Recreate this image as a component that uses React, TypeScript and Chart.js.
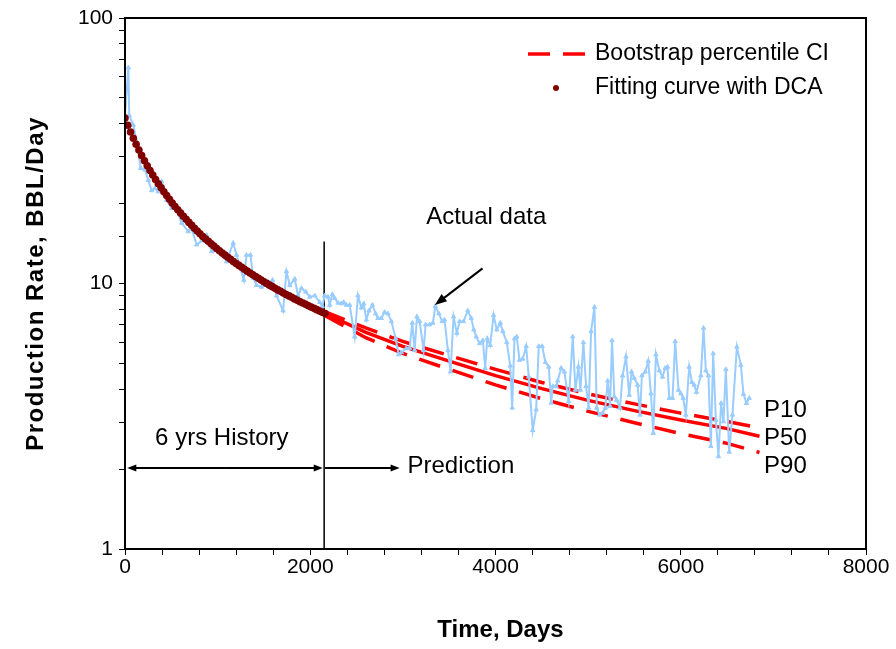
import React, { useEffect, useRef } from "react";
import { Chart, registerables } from "chart.js";

Chart.register(...registerables);

// ---------- data ----------
const fitDays = [
  0, 30, 60, 90, 120, 150, 180, 210, 240, 270, 300, 330, 360, 390, 420, 450, 480, 510, 540, 570,
  600, 630, 660, 690, 720, 750, 780, 810, 840, 870, 900, 930, 960, 990, 1020, 1050, 1080, 1110,
  1140, 1170, 1200, 1230, 1260, 1290, 1320, 1350, 1380, 1410, 1440, 1470, 1500, 1530, 1560, 1590,
  1620, 1650, 1680, 1710, 1740, 1770, 1800, 1830, 1860, 1890, 1920, 1950, 1980, 2010, 2040, 2070,
  2100, 2130, 2160,
];
const fitRate = [
  42.0, 39.47, 37.23, 35.23, 33.44, 31.82, 30.34, 29.0, 27.77, 26.65, 25.61, 24.64, 23.75, 22.92,
  22.15, 21.43, 20.75, 20.11, 19.51, 18.95, 18.42, 17.92, 17.44, 16.99, 16.56, 16.15, 15.76, 15.39,
  15.04, 14.7, 14.41, 14.11, 13.83, 13.55, 13.28, 13.03, 12.79, 12.55, 12.33, 12.11, 11.9, 11.7,
  11.51, 11.31, 11.13, 10.95, 10.79, 10.62, 10.46, 10.3, 10.15, 10.01, 9.86, 9.73, 9.59, 9.46, 9.34,
  9.21, 9.09, 8.98, 8.87, 8.75, 8.65, 8.54, 8.44, 8.35, 8.25, 8.15, 8.06, 7.97, 7.88, 7.79, 7.71,
];

const actualDays = [
  0, 36, 46, 90, 126, 169, 216, 251, 288, 323, 359, 396, 450, 504, 539, 612, 683, 720, 774, 828,
  882, 935, 1007, 1061, 1096, 1168, 1204, 1283, 1312, 1355, 1384, 1420, 1474, 1528, 1593, 1636,
  1707, 1743, 1779, 1833, 1868, 1905, 1952, 1995, 2049, 2102, 2130,
  2156, 2192, 2210, 2239, 2264, 2300, 2336, 2361, 2390, 2426, 2480, 2515, 2552, 2577, 2606, 2634,
  2671, 2706, 2731, 2768, 2803, 2839, 2876, 2922, 2954, 2983, 3037, 3073, 3102, 3127, 3152, 3181,
  3224, 3245, 3288, 3324, 3350, 3389, 3425, 3450, 3486, 3515, 3547, 3583, 3612, 3655, 3701, 3738,
  3766, 3792, 3828, 3863, 3889, 3911, 3943, 3979, 4014, 4051, 4079, 4122, 4159, 4180, 4205, 4230,
  4259, 4294, 4331, 4359, 4402, 4439, 4467, 4504, 4539, 4575, 4601, 4618, 4655, 4672, 4709, 4744,
  4790, 4834, 4863, 4895, 4917, 4949, 4978, 5006, 5032, 5068, 5093, 5122, 5157, 5186, 5211, 5237,
  5258, 5283, 5308, 5344, 5372, 5409, 5444, 5469, 5498, 5534, 5560, 5581, 5617, 5649, 5678, 5703,
  5732, 5768, 5803, 5832, 5857, 5876, 5911, 5940, 5976, 6001, 6026, 6055, 6091, 6120, 6145, 6170,
  6217, 6246, 6271, 6299, 6325, 6350, 6379, 6407, 6436, 6461, 6487, 6523, 6558, 6606, 6649, 6677,
  6710, 6739,
];
const actualRate = [
  43, 65, 43, 39.5, 34.2, 27.2, 26.8, 24.5, 22.4, 22.8, 22.2, 24.2, 20.6, 19.2, 19.7, 16.9, 15.7,
  16.1, 14.0, 14.5, 15.2, 13.2, 13.4, 12.8, 12.1, 14.2, 12.8, 10.3, 12.8, 12.8, 10.5, 9.85, 9.7,
  9.85, 10.3, 9.0, 7.9, 11.1, 9.85, 10.4, 9.0, 9.6, 9.3, 8.9, 9.0, 8.5, 8.2,
  9.0, 8.9, 8.3, 9.1, 8.8, 8.45, 8.4, 8.5, 8.3, 8.3, 6.3, 9.0, 8.1, 8.4, 7.3, 7.9, 8.3, 7.7, 7.4,
  7.4, 7.8, 7.7, 7.2, 6.2, 5.4, 5.5, 5.7, 5.7, 7.1, 5.6, 7.5, 7.2, 5.6, 7.0, 7.0, 7.1, 8.2, 7.7,
  7.2, 7.3, 5.6, 4.65, 7.5, 6.5, 7.2, 7.2, 7.9, 7.4, 6.7, 6.3, 5.95, 6.1, 4.8, 6.2, 5.85, 7.6,
  6.7, 7.1, 6.6, 6.0, 4.9, 3.4, 6.2, 6.3, 5.15, 5.2, 5.8, 4.45, 2.8, 3.35, 5.8, 5.8, 5.05, 4.85,
  3.55, 4.1, 4.1, 4.3, 4.8, 4.65,
  3.6, 6.3, 3.97, 4.85, 3.97, 6.0, 4.1, 3.4, 6.6, 8.15, 3.4, 3.2, 3.25, 3.4, 4.3, 3.45, 6.1, 3.75,
  3.64, 3.4, 4.5, 5.3, 3.8, 4.65, 4.4, 4.15, 3.2, 4.5, 4.65, 5.1, 3.85, 2.73, 5.4, 4.7, 4.45, 4.8,
  4.85, 3.7, 3.7, 6.05, 3.97, 3.85, 3.7, 3.2, 4.85, 4.25, 4.15, 3.9, 4.5, 6.8, 4.7, 4.5, 2.44,
  5.45, 3.06, 2.23, 3.54, 3.02, 4.75, 2.32, 3.2, 5.77, 4.93, 3.83, 3.54, 3.7,
];

const ciDays = [2150, 2600, 3000, 3500, 4000, 4500, 5000, 5500, 6000, 6500, 6850];
const p10 = [7.85, 6.8, 6.05, 5.35, 4.75, 4.24, 3.84, 3.52, 3.25, 3.02, 2.86];
const p50 = [7.73, 6.55, 5.8, 5.1, 4.5, 4.02, 3.63, 3.32, 3.06, 2.84, 2.66];
const p90 = [7.6, 6.25, 5.45, 4.75, 4.15, 3.68, 3.3, 2.99, 2.72, 2.5, 2.31];

const splitDay = 2150;
const splitLineRates = [14.4, 1];

const xMin = 0;
const xMax = 8000;
const xStep = 400;
const xLabelEvery = 2000;
const yMin = 1;
const yMax = 100;
const yLabels = [1, 10, 100];

const legendLabels = ["Bootstrap percentile CI", "Fitting curve with DCA"];
const xTitle = "Time, Days";
const yTitle = "Production Rate, BBL/Day";

// annotation anchors (data coordinates)
const actualLabel = { text: "Actual data", day: 3900, rate: 17.8 };
const actualArrow = { fromDay: 3860, fromRate: 11.4, toDay: 3345, toRate: 8.3 };
const historyLabel = { text: "6 yrs History", day: 1045, rate: 2.62 };
const arrowRate = 2.02;
const historyArrow = { fromDay: 25, toDay: 2135 };
const predictionArrow = { fromDay: 2160, toDay: 2965 };
const predictionLabel = { text: "Prediction", day: 3050, rate: 2.04 };
const pLabels = [
  { text: "P10", day: 6900, rate: 3.34 },
  { text: "P50", day: 6900, rate: 2.62 },
  { text: "P90", day: 6900, rate: 2.05 },
];

const FONT = "'Liberation Sans', Arial, Helvetica, sans-serif";
const RED = "#ff0000";
const DOT = "#800000";
const BLUE = "#99ccff";

function pairs(xs: number[], ys: number[]) {
  return xs.map((x, i) => ({ x, y: ys[i] }));
}

function drawArrow(ctx: CanvasRenderingContext2D, x1: number, y1: number, x2: number, y2: number, len = 9, half = 3.5) {
  const ang = Math.atan2(y2 - y1, x2 - x1);
  ctx.beginPath();
  ctx.moveTo(x1, y1);
  ctx.lineTo(x2 - Math.cos(ang) * len * 0.6, y2 - Math.sin(ang) * len * 0.6);
  ctx.stroke();
  ctx.beginPath();
  ctx.moveTo(x2, y2);
  ctx.lineTo(x2 - Math.cos(ang) * len - Math.sin(ang) * half, y2 - Math.sin(ang) * len + Math.cos(ang) * half);
  ctx.lineTo(x2 - Math.cos(ang) * len + Math.sin(ang) * half, y2 - Math.sin(ang) * len - Math.cos(ang) * half);
  ctx.closePath();
  ctx.fill();
}

const annotationPlugin = {
  id: "annotations",
  afterDraw(chart: any) {
    const { ctx, chartArea: a, scales } = chart;
    const X = (v: number) => scales.x.getPixelForValue(v);
    const Y = (v: number) => scales.y.getPixelForValue(v);
    ctx.save();
    // frame
    ctx.strokeStyle = "#000";
    ctx.lineWidth = 2;
    ctx.strokeRect(a.left, a.top, a.right - a.left, a.bottom - a.top);

    ctx.fillStyle = "#000";
    ctx.textBaseline = "middle";
    ctx.font = `24px ${FONT}`;
    ctx.textAlign = "center";
    ctx.fillText(actualLabel.text, X(actualLabel.day), Y(actualLabel.rate));
    ctx.fillText(historyLabel.text, X(historyLabel.day), Y(historyLabel.rate));
    ctx.textAlign = "left";
    ctx.fillText(predictionLabel.text, X(predictionLabel.day), Y(predictionLabel.rate));
    pLabels.forEach((p) => ctx.fillText(p.text, X(p.day), Y(p.rate)));

    ctx.strokeStyle = "#000";
    ctx.lineWidth = 2;
    drawArrow(ctx, X(actualArrow.fromDay), Y(actualArrow.fromRate), X(actualArrow.toDay), Y(actualArrow.toRate), 12, 4.5);
    const ay = Y(arrowRate);
    const hx1 = X(historyArrow.fromDay);
    const hx2 = X(historyArrow.toDay);
    const mid = (hx1 + hx2) / 2;
    drawArrow(ctx, mid, ay, hx1, ay);
    drawArrow(ctx, mid, ay, hx2, ay);
    drawArrow(ctx, X(predictionArrow.fromDay), ay, X(predictionArrow.toDay), ay);

    // legend
    const lx = a.right - 338;
    const ly1 = a.top + 36;
    const ly2 = a.top + 70;
    ctx.strokeStyle = RED;
    ctx.lineWidth = 3.5;
    ctx.setLineDash([22, 13]);
    ctx.beginPath();
    ctx.moveTo(lx, ly1);
    ctx.lineTo(lx + 57, ly1);
    ctx.stroke();
    ctx.setLineDash([]);
    ctx.fillStyle = DOT;
    ctx.beginPath();
    ctx.arc(lx + 28, ly2, 3, 0, Math.PI * 2);
    ctx.fill();
    ctx.fillStyle = "#000";
    ctx.font = `23px ${FONT}`;
    ctx.textAlign = "left";
    ctx.fillText(legendLabels[0], lx + 67, ly1);
    ctx.fillText(legendLabels[1], lx + 67, ly2);

    // axis titles
    ctx.font = `bold 24px ${FONT}`;
    ctx.textAlign = "center";
    ctx.fillText(xTitle, (a.left + a.right) / 2 + 5, a.bottom + 81);
    ctx.save();
    ctx.translate(36, (a.top + a.bottom) / 2);
    ctx.rotate(-Math.PI / 2);
    try {
      (ctx as any).letterSpacing = "1.5px";
    } catch (e) {
      /* ignore */
    }
    ctx.fillText(yTitle, 0, 0);
    ctx.restore();
    ctx.restore();
  },
};

export default function App() {
  const ref = useRef<HTMLCanvasElement | null>(null);
  useEffect(() => {
    document.body.style.margin = "0";
    const canvas = ref.current;
    if (!canvas) return;
    const chart = new Chart(canvas, {
      type: "line",
      data: {
        datasets: [
          {
            label: "split",
            data: [{ x: splitDay, y: splitLineRates[0] }, { x: splitDay, y: splitLineRates[1] }],
            borderColor: "#000",
            borderWidth: 1.5,
            pointRadius: 0,
            order: 4,
          },
          {
            label: "P90",
            data: pairs(ciDays, p90),
            borderColor: RED,
            borderWidth: 3.5,
            borderDash: [22, 13],
            pointRadius: 0,
            order: 3,
          },
          {
            label: "P10",
            data: pairs(ciDays, p10),
            borderColor: RED,
            borderWidth: 3.5,
            borderDash: [22, 13],
            pointRadius: 0,
            order: 3,
          },
          {
            label: "P50",
            data: pairs(ciDays, p50),
            borderColor: RED,
            borderWidth: 3.5,
            pointRadius: 0,
            order: 3,
          },
          {
            label: "Actual data",
            data: pairs(actualDays, actualRate),
            borderColor: BLUE,
            backgroundColor: BLUE,
            borderWidth: 2,
            pointStyle: "triangle",
            pointRadius: 2.5,
            pointBorderWidth: 1,
            order: 1,
          },
          {
            label: legendLabels[1],
            data: pairs(fitDays, fitRate),
            showLine: false,
            borderColor: DOT,
            backgroundColor: DOT,
            pointRadius: 3.8,
            pointBorderWidth: 0,
            order: 0,
          },
        ],
      },
      options: {
        animation: false,
        responsive: false,
        events: [],
        layout: { padding: { left: 0, right: 30, top: 18, bottom: 0 } },
        plugins: { legend: { display: false }, tooltip: { enabled: false } },
        scales: {
          x: {
            type: "linear",
            min: xMin,
            max: xMax,
            afterFit: (s: any) => {
              s.height = 100;
              s.paddingLeft = 0;
              s.paddingRight = 0;
              s.paddingTop = 0;
              s.paddingBottom = 0;
            },
            ticks: {
              stepSize: xStep,
              autoSkip: false,
              maxRotation: 0,
              minRotation: 0,
              padding: 0,
              color: "#000",
              font: { family: FONT, size: 21 },
              callback: (v: any) => (Number(v) % xLabelEvery === 0 ? String(v) : ""),
            },
            grid: { drawOnChartArea: false, drawTicks: true, tickLength: 6, color: "#000", lineWidth: 1 },
            border: { display: true, color: "#000", width: 2 },
          },
          y: {
            type: "logarithmic",
            min: yMin,
            max: yMax,
            afterFit: (s: any) => {
              s.width = 125;
              s.paddingLeft = 0;
              s.paddingRight = 0;
              s.paddingTop = 0;
              s.paddingBottom = 0;
            },
            ticks: {
              autoSkip: false,
              padding: 6,
              color: "#000",
              font: { family: FONT, size: 21 },
              callback: (v: any) => (yLabels.some((l) => Math.abs(l - Number(v)) < 1e-6) ? String(v) : ""),
            },
            grid: { drawOnChartArea: false, drawTicks: true, tickLength: 6, color: "#000", lineWidth: 1 },
            border: { display: true, color: "#000", width: 2 },
          },
        },
      },
      plugins: [annotationPlugin],
    } as any);
    return () => chart.destroy();
  }, []);
  return (
    <div style={{ width: 896, height: 649, background: "#fff" }}>
      <canvas ref={ref} width={896} height={649} style={{ display: "block" }} />
    </div>
  );
}
